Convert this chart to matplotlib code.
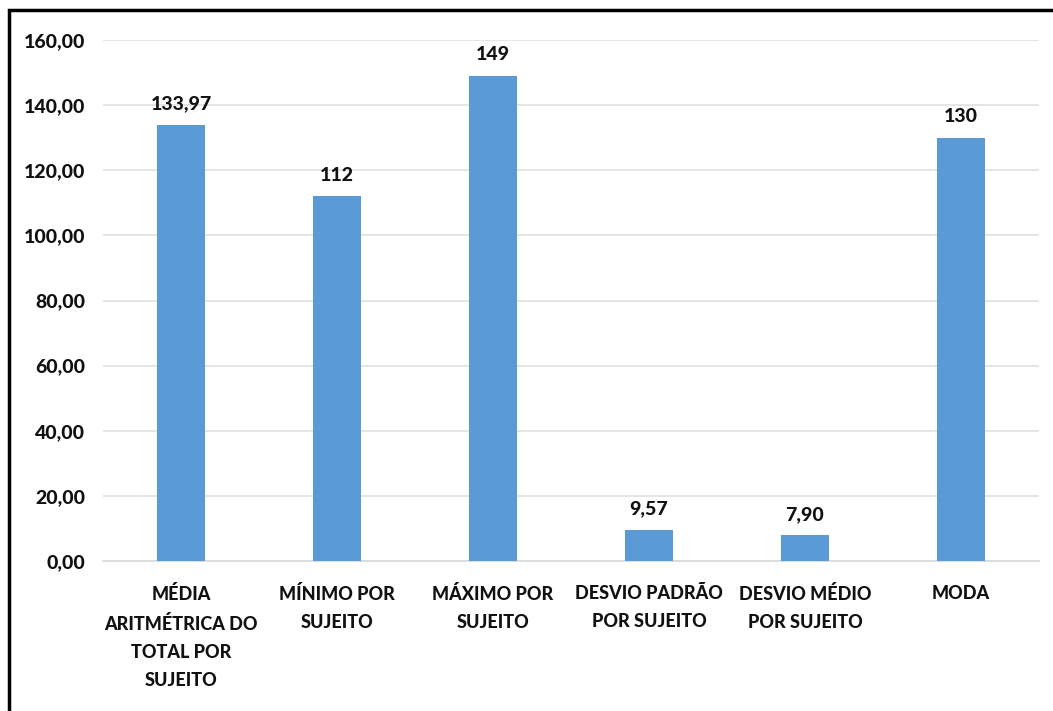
import matplotlib
matplotlib.use("Agg")
import matplotlib.pyplot as plt
from matplotlib.patches import Rectangle

# data
categories = ["MÉDIA\nARITMÉTRICA DO\nTOTAL POR\nSUJEITO",
              "MÍNIMO POR\nSUJEITO",
              "MÁXIMO POR\nSUJEITO",
              "DESVIO PADRÃO\nPOR SUJEITO",
              "DESVIO MÉDIO\nPOR SUJEITO",
              "MODA"]
values = [133.97, 112, 149, 9.57, 7.90, 130]
value_labels = ["133,97", "112", "149", "9,57", "7,90", "130"]
yticks = [0, 20, 40, 60, 80, 100, 120, 140, 160]

plt.rcParams['font.family'] = ['Lato', 'DejaVu Sans']
W = 900

fig = plt.figure(figsize=(10.53, 7.11), dpi=100)
ax = fig.add_axes([0.0978, 0.2110, 0.8889, 0.7327])

x = range(len(categories))
bars = ax.bar(x, values, width=0.31, color='#5B9BD5', zorder=3)

for b, lab in zip(bars, value_labels):
    ax.annotate(lab, (b.get_x() + b.get_width() / 2, b.get_height()),
                xytext=(0, 9), textcoords='offset points',
                ha='center', va='bottom', fontsize=14, fontweight=W, color='#111111')

ax.set_xlim(-0.5, len(categories) - 0.5)
ax.set_ylim(0, 160)
ax.set_yticks(yticks)
ax.set_yticklabels(["{:.2f}".format(v).replace('.', ',') for v in yticks],
                   fontsize=14, fontweight=W, color='#111111')
ax.set_xticks(list(x))
ax.set_xticklabels(categories, fontsize=13, fontweight=W, color='#111111',
                   linespacing=1.8)
ax.tick_params(axis='both', length=0)
ax.tick_params(axis='y', pad=13)
ax.tick_params(axis='x', pad=17)
ax.yaxis.grid(True, color='#E0E0E0', linewidth=1.2, zorder=0)
for s in ['top', 'right', 'left']:
    ax.spines[s].set_visible(False)
ax.spines['bottom'].set_color('#D9D9D9')
ax.spines['bottom'].set_linewidth(1.2)

# outer frame (only left and top visible in the crop)
fig.patches.append(Rectangle((9 / 1053, -0.1), 1.2, 1.1 - 10 / 711,
                             transform=fig.transFigure, fill=False,
                             edgecolor='black', linewidth=2.5))

fig.savefig("out.png", dpi=100)
